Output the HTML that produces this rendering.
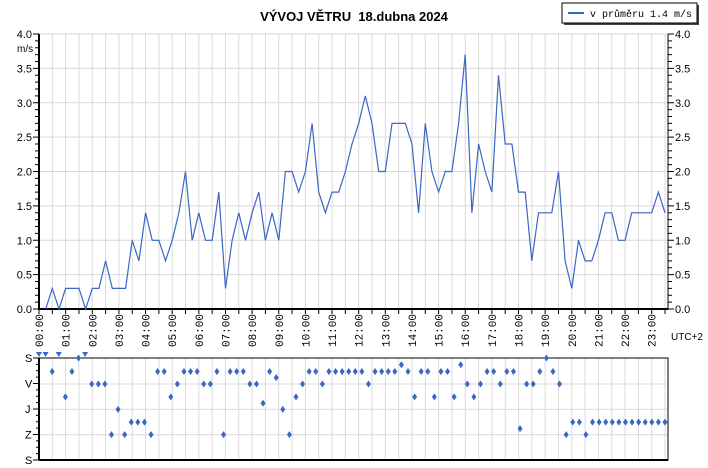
<!DOCTYPE html>
<html><head><meta charset="utf-8"><style>
html,body{margin:0;padding:0;background:#fff;}
svg{display:block;font-family:"Liberation Sans",sans-serif;}
</style></head><body>
<svg id="s" width="708" height="468" viewBox="0 0 708 468" xmlns="http://www.w3.org/2000/svg">
<rect width="708" height="468" fill="#fff"/>
<text x="354" y="21" text-anchor="middle" font-size="13" font-weight="bold" fill="#000">VÝVOJ VĚTRU&#160; 18.dubna 2024</text>
<rect x="564" y="5" width="135" height="20" fill="#444"/>
<rect x="562" y="3" width="135" height="20" fill="#fff" stroke="#000" stroke-width="1"/>
<line x1="568" y1="13" x2="584" y2="13" stroke="#3a66c4" stroke-width="2"/>
<text x="590" y="17" font-family="Liberation Mono,monospace" font-size="10" fill="#000">v průměru 1.4 m/s</text>
<g id="g"></g>
</svg>
<script>
var NS="http://www.w3.org/2000/svg",g=document.getElementById('g');
function el(t,a,txt){var e=document.createElementNS(NS,t);for(var k in a)e.setAttribute(k,a[k]);if(txt!=null)e.textContent=txt;g.appendChild(e);return e;}
var X0=39,X1=668,Y0=34,Y1=309,st=6.66,hr=26.64;
function X(i){return X0+i*st;}
function Y(v){return Y1-v*68.75;}
for(var k=1;k<=48;k++){var x=X0+k*13.32;if(x<X1)el('line',{x1:x,y1:Y0,x2:x,y2:Y1,stroke:'#d9d9d9','stroke-width':1});}
for(var v=0.5;v<=4.0;v+=0.5){el('line',{x1:X0,y1:Y(v),x2:X1,y2:Y(v),stroke:'#d9d9d9','stroke-width':1});}
el('line',{x1:X0,y1:Y0,x2:X0,y2:Y1+1,stroke:'#000','stroke-width':2});
el('line',{x1:X1,y1:Y0,x2:X1,y2:Y1+1,stroke:'#000','stroke-width':1});
el('line',{x1:X0-1,y1:Y1,x2:X1,y2:Y1,stroke:'#000','stroke-width':2});
for(var k=0;k<=40;k++){var y=Y(k/10),l=(k%5==0)?6:4;el('line',{x1:X0-l,y1:y,x2:X0,y2:y,stroke:'#000'});el('line',{x1:X1,y1:y,x2:X1+l,y2:y,stroke:'#000'});}
for(var k=0;k<=47;k++){var x=X0+k*13.32;el('line',{x1:x,y1:Y1,x2:x,y2:Y1+5,stroke:'#000'});}
for(var k=0;k<=8;k++){var v=k*0.5,t=v.toFixed(1);el('text',{x:32,y:Y(v)+4,'text-anchor':'end','font-size':11},t);el('text',{x:675,y:Y(v)+4,'font-size':11},t);}
el('text',{x:17,y:52,'font-size':10},'m/s');
for(var h=0;h<24;h++){var x=X0+h*hr,s=(h<10?'0':'')+h+':00';el('text',{x:0,y:0,'font-size':11,'font-family':'Liberation Mono,monospace','text-anchor':'end',transform:'translate('+(x+4)+',314) rotate(-90)'},s);}
el('text',{x:671,y:340,'font-size':10},'UTC+2');
var sp=[null,0,0.3,0,0.3,0.3,0.3,0,0.3,0.3,0.7,0.3,0.3,0.3,1.0,0.7,1.4,1.0,1.0,0.7,1.0,1.4,2.0,1.0,1.4,1.0,1.0,1.7,0.3,1.0,1.4,1.0,1.4,1.7,1.0,1.4,1.0,2.0,2.0,1.7,2.0,2.7,1.7,1.4,1.7,1.7,2.0,2.4,2.7,3.1,2.7,2.0,2.0,2.7,2.7,2.7,2.4,1.4,2.7,2.0,1.7,2.0,2.0,2.7,3.7,1.4,2.4,2.0,1.7,3.4,2.4,2.4,1.7,1.7,0.7,1.4,1.4,1.4,2.0,0.7,0.3,1.0,0.7,0.7,1.0,1.4,1.4,1.0,1.0,1.4,1.4,1.4,1.4,1.7,1.4];
var p=[];for(var i=0;i<sp.length;i++)if(sp[i]!=null)p.push(X(i).toFixed(1)+','+Y(sp[i]).toFixed(1));
el('polyline',{points:p.join(' '),fill:'none',stroke:'#3a66c4','stroke-width':1.2});
var B0=358,B1=460;
for(var k=1;k<=48;k++){var x=X0+k*13.32;if(x<X1)el('line',{x1:x,y1:B0,x2:x,y2:B1,stroke:'#d9d9d9'});}
var lv=[384,409.3,434.7];lv.forEach(function(y){el('line',{x1:X0,y1:y,x2:X1,y2:y,stroke:'#d9d9d9'});});
el('rect',{x:X0,y:B0,width:X1-X0,height:B1-B0,fill:'none',stroke:'#000','stroke-width':1});
el('line',{x1:X0,y1:B0,x2:X0,y2:B1,stroke:'#000','stroke-width':2});
el('line',{x1:X0,y1:B1,x2:X1,y2:B1,stroke:'#000','stroke-width':2});
for(var k=0;k<=16;k++){var y=B0+k*(B1-B0)/16;el('line',{x1:X0-((k%4==0)?6:3),y1:y,x2:X0,y2:y,stroke:'#000'});}
var L=['S','V','J','Z','S'];for(var k=0;k<5;k++)el('text',{x:25,y:B0+k*25.5+4,'font-size':11},L[k]);
var T=-1;
var d=[T,T,183,T,258,183,143,T,220,220,220,370,295,370,333,333,333,370,183,183,258,220,183,183,183,220,220,183,370,183,183,183,220,220,277,183,201,295,370,258,220,183,183,220,183,183,183,183,183,183,220,183,183,183,183,163,183,258,183,183,258,183,183,258,163,220,258,220,183,183,220,183,183,352,220,220,183,143,183,220,370,333,333,370,333,333,333,333,333,333,333,333,333,333,333,333];
var dst=(665-X0)/(d.length-1);
for(var i=0;i<d.length;i++){var x=X0+i*dst;
 if(d[i]==T){el('polygon',{points:(x-3)+',352 '+(x+3)+',352 '+x+',357',fill:'#3a66c4'});}
 else{var y=358+(d[i]-143)*0.3377;el('polygon',{points:x+','+(y-3.5)+' '+(x+2.5)+','+y+' '+x+','+(y+3.5)+' '+(x-2.5)+','+y,fill:'#3a66c4'});}
}
</script>
</body></html>
